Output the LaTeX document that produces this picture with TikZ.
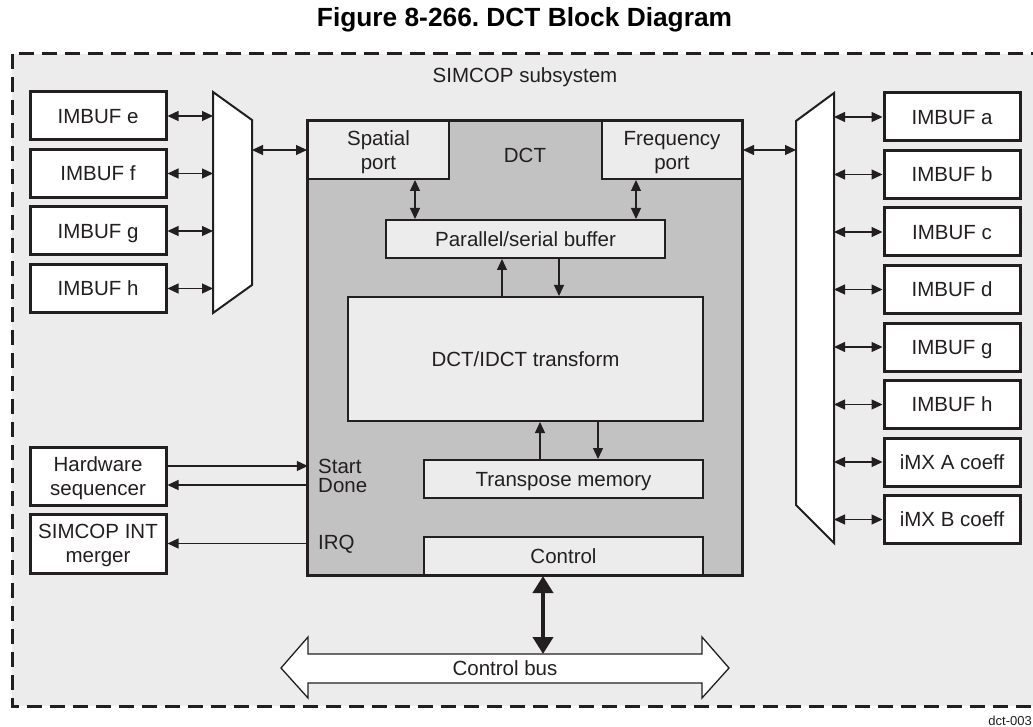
\documentclass[tikz,border=0pt]{standalone}
\usepackage{fontspec}
\setmainfont{Liberation Sans}
\usetikzlibrary{arrows.meta}
\definecolor{bg}{HTML}{ECECEC}
\definecolor{dctgray}{HTML}{C2C2C2}
\definecolor{ink}{HTML}{231F20}
\frenchspacing
\begin{document}
\begin{tikzpicture}[x=1pt,y=-1pt,
  font=\fontsize{20.5}{24}\selectfont,
  every node/.style={text=ink},
  capc/.style={inner sep=0pt, text height=14.7pt, text depth=0pt, align=center},
  twoline/.style={text height=38.7pt, text depth=0pt},
  bufbox/.style={capc, draw=ink, line width=3pt, fill=white, minimum width=136pt, minimum height=48pt},
  innerbox/.style={capc, draw=ink, line width=2pt, fill=bg},
  darr/.style={{Triangle[length=11pt,width=10pt]}-{Triangle[length=11pt,width=10pt]}, line width=1.2pt, draw=ink},
  arr/.style={-{Triangle[length=11pt,width=10pt]}, line width=1.2pt, draw=ink},
  bigarr/.style={{Triangle[length=17pt,width=20pt]}-{Triangle[length=17pt,width=20pt]}, line width=4pt, draw=ink},
  muxshape/.style={draw=ink, line width=2pt, fill=white}
]
\useasboundingbox (0,0) rectangle (1033,727);
\clip (0,0) rectangle (1033,727);

% title
\node[font=\fontsize{26.3}{30}\selectfont\bfseries, text=black, inner sep=0pt, anchor=base] (title) at (524.5,27) {Figure 8-266. DCT Block Diagram};

% subsystem frame
\draw[draw=ink, line width=3pt, dash pattern=on 15pt off 8pt, fill=bg] (12,54) rectangle (1050,706);
\node[capc] (sub) at (525,75.5) {SIMCOP subsystem};
\node[font=\fontsize{13}{15}\selectfont, inner sep=0pt, anchor=base east] (fid) at (1032,725) {dct-003};

% muxes
\draw[muxshape] (213,92) -- (252,120) -- (252,285) -- (213,313) -- cycle;
\draw[muxshape] (796,121) -- (834,93) -- (834,543) -- (796,505) -- cycle;
\coordinate (lmL) at (213,0);
\coordinate (lmR) at (252,0);
\coordinate (rmL) at (796,0);
\coordinate (rmR) at (834,0);

% left buffers
\node[bufbox] (ie) at (98,116) {IMBUF e};
\node[bufbox] (if) at (98,173.5) {IMBUF f};
\node[bufbox] (ig) at (98,231) {IMBUF g};
\node[bufbox] (ih) at (98,288.5) {IMBUF h};
\node[bufbox, twoline, minimum height=58pt] (hs) at (98,476) {Hardware\\sequencer};
\node[bufbox, twoline, minimum height=59pt] (sim) at (98,543.5) {SIMCOP INT\\merger};

% right buffers
\node[bufbox] (ra) at (952,117) {IMBUF a};
\node[bufbox] (rb) at (952,174.5) {IMBUF b};
\node[bufbox] (rc) at (952,232) {IMBUF c};
\node[bufbox] (rd) at (952,289.5) {IMBUF d};
\node[bufbox] (rg) at (952,347) {IMBUF g};
\node[bufbox] (rh) at (952,404.5) {IMBUF h};
\node[bufbox] (rA) at (952,462) {iMX A coeff};
\node[bufbox] (rB) at (952,519.5) {iMX B coeff};

% DCT block
\node[fill=dctgray, inner sep=0pt, minimum width=434pt, minimum height=454pt] (dct) at (525,348) {};
\node[innerbox, twoline, minimum width=141pt, minimum height=58pt] (sp) at (378.5,150) {Spatial\\port};
\node[innerbox, twoline, minimum width=140pt, minimum height=58pt] (fp) at (672,150) {Frequency\\port};
\node[capc] (dctl) at (525,155.5) {DCT};
\node[innerbox, minimum width=279pt, minimum height=38pt] (buf) at (525.5,239) {Parallel/serial buffer};
\node[innerbox, minimum width=355pt, minimum height=124pt] (tr) at (525.5,359) {DCT/IDCT transform};
\node[innerbox, minimum width=279pt, minimum height=38pt] (tp) at (563.5,479) {Transpose memory};
\node[innerbox, minimum width=279pt, minimum height=38pt] (ctrl) at (563.5,556) {Control};
\draw[draw=ink, line width=3pt] (dct.north west) rectangle (dct.south east);
\node[capc, anchor=west] (lstart) at (318,466) {Start};
\node[capc, anchor=west] (ldone) at (318,485.5) {Done};
\node[capc, anchor=west] (lirq) at (318,542) {IRQ};

% control bus
\draw[draw=ink, line width=1.3pt, fill=white] (281,668) -- (308,637) -- (308,654) -- (702,654) -- (702,637) -- (729,668) -- (702,698) -- (702,683) -- (308,683) -- (308,698) -- cycle;
\node[capc] (bus) at (505,668) {Control bus};
\coordinate (busTop) at (543,654);
\draw[bigarr] (busTop |- ctrl.south) -- (busTop);

% left connections
\draw[darr] (ie.east) -- (ie.east -| lmL);
\draw[darr] (if.east) -- (if.east -| lmL);
\draw[darr] (ig.east) -- (ig.east -| lmL);
\draw[darr] (ih.east) -- (ih.east -| lmL);
\draw[darr] (sp.west -| lmR) -- (sp.west);

% right connections
\draw[darr] (fp.east) -- (fp.east -| rmL);
\foreach \n in {ra,rb,rc,rd,rg,rh,rA,rB}
  \draw[darr] (\n.west -| rmR) -- (\n.west);

% internal connections
\coordinate (x1) at (415,0);
\coordinate (x2) at (636,0);
\coordinate (x3) at (502,0);
\coordinate (x4) at (559,0);
\coordinate (x5) at (540,0);
\coordinate (x6) at (598,0);
\draw[darr] (sp.south -| x1) -- (buf.north -| x1);
\draw[darr] (fp.south -| x2) -- (buf.north -| x2);
\draw[arr] (tr.north -| x3) -- (buf.south -| x3);
\draw[arr] (buf.south -| x4) -- (tr.north -| x4);
\draw[arr] (tp.north -| x5) -- (tr.south -| x5);
\draw[arr] (tr.south -| x6) -- (tp.north -| x6);

% sequencer / interrupt
\draw[arr] ([yshift=10pt]hs.east) -- ([yshift=10pt]hs.east -| dct.west);
\draw[arr] ([yshift=-9pt]hs.east -| dct.west) -- ([yshift=-9pt]hs.east);
\draw[arr] (sim.east -| dct.west) -- (sim.east);
\end{tikzpicture}
\end{document}
